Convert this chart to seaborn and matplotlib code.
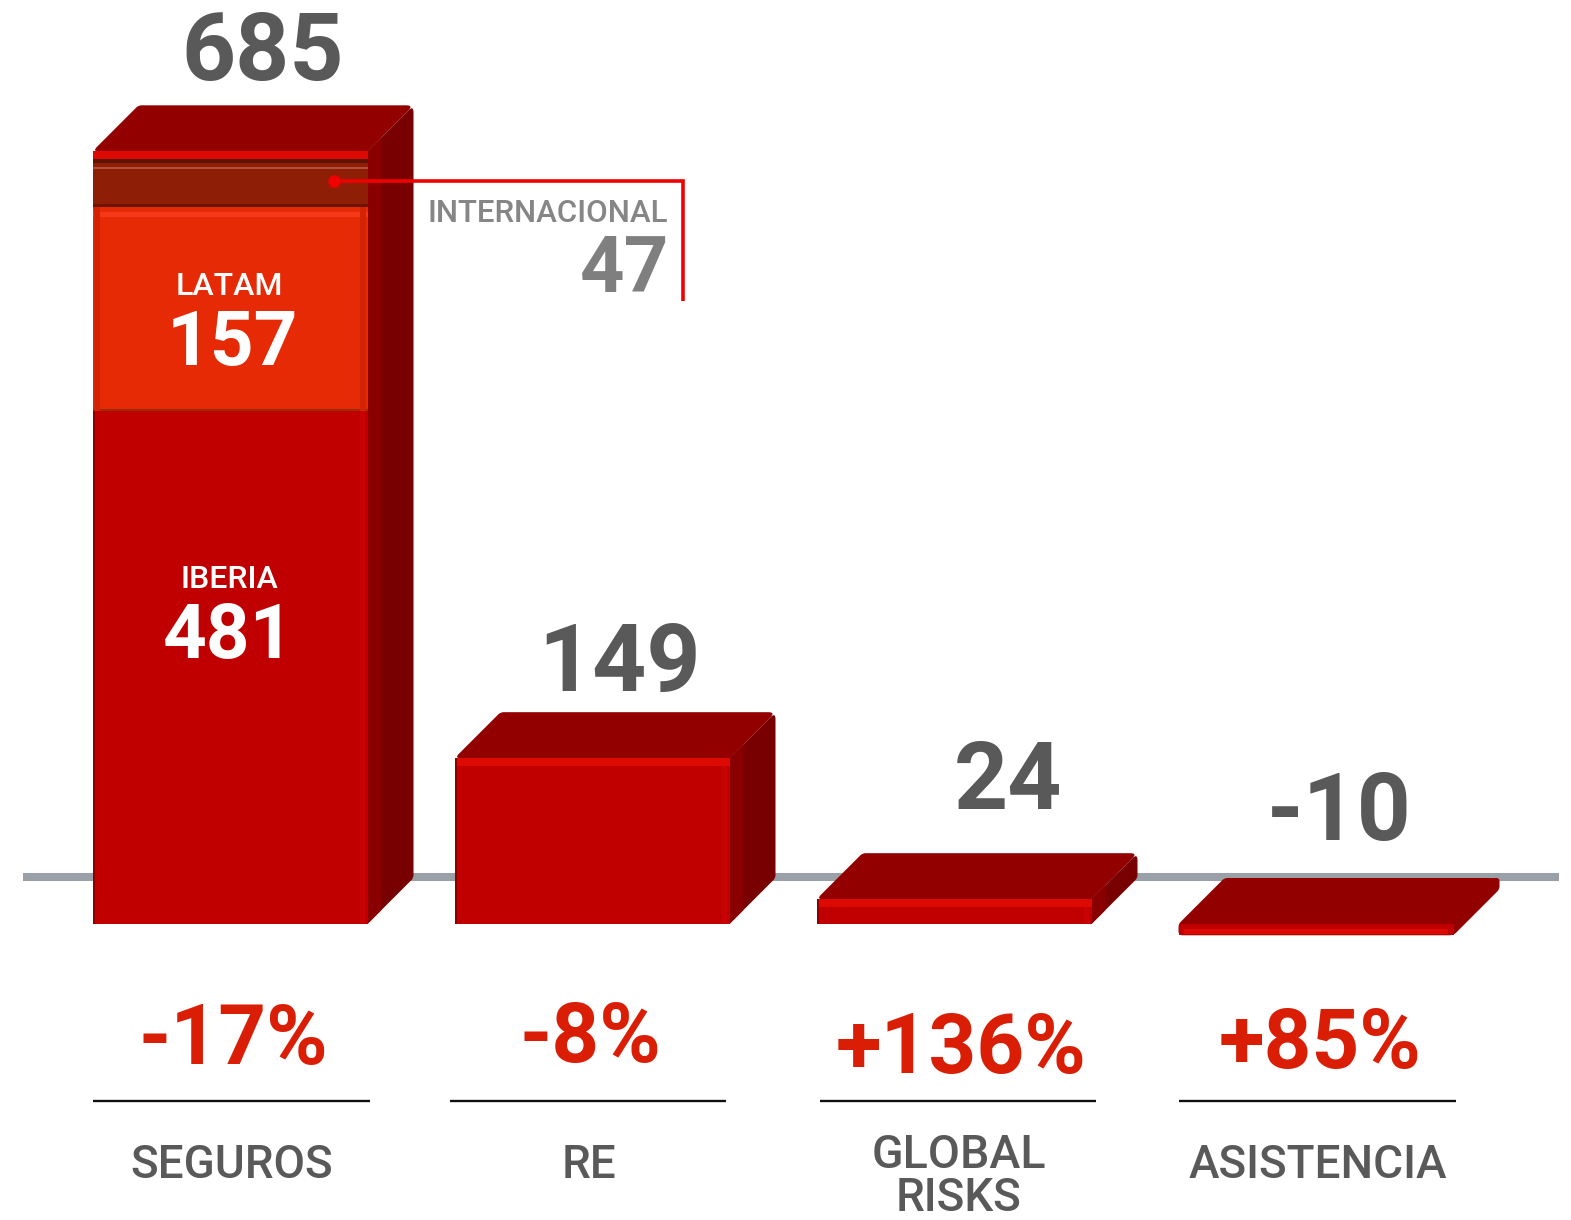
import matplotlib
matplotlib.use("Agg")
import matplotlib.pyplot as plt
from matplotlib.patches import PathPatch
from matplotlib.path import Path
from matplotlib.transforms import Affine2D, IdentityTransform
import numpy as np
import pandas as pd
import seaborn as sns

categories = ["SEGUROS", "RE", "GLOBAL\nRISKS", "ASISTENCIA"]
iberia_values = [455, 147, 22, -10]
latam_values = [181, 0, 0, 0]
internacional_values = [49, 0, 0, 0]
total_labels = ["685", "149", "24", "-10"]
change_labels = ["-17%", "-8%", "+136%", "+85%"]
segment_names = ["IBERIA", "LATAM", "INTERNACIONAL"]
segment_labels = ["481", "157", "47"]

W, H = 1571, 1220
PX_PER_UNIT = 1.128
BASE_PX = 924
PITCH = 362
CENTER0 = 230
BAR_W = 275 / PITCH
DX, DY = 46 / PITCH, 46 / PX_PER_UNIT

FRONT, TOP, SIDE = "#c00000", "#930000", "#790000"
BEVEL = "#dc0a02"
GREY, RED, LINE_RED = "#595959", "#d91e05", "#f00000"
FONT = "Roboto"

sns.set_theme(style="white")
plt.rcParams["font.family"] = [FONT, "DejaVu Sans"]
fig = plt.figure(figsize=(W / 100, H / 100), dpi=100, facecolor="white")
ax = fig.add_axes([0, 0, 1, 1])

# pixel coordinates (as read on the 1568-wide view) for annotation layout
S = W / 1568
px = Affine2D().scale(S, -S).translate(0, H)


def label(x, y, s, size, color=GREY, ha="center", weight="bold"):
    fig.text(x, y, s, transform=px, fontsize=size, color=color, ha=ha, va="baseline",
             fontweight=weight, fontfamily=[FONT, "DejaVu Sans"], zorder=10)


def face(points, radii, color, z=2):
    """Polygon from data coordinates, with corners rounded by radii pixels."""
    pts = ax.transData.transform(np.array(points, float))
    n = len(pts)
    verts, codes = [], []
    for k in range(n):
        p, a, b = pts[k], pts[k - 1], pts[(k + 1) % n]
        r = radii[k]
        ua = (a - p) / max(np.hypot(*(a - p)), 1e-6)
        ub = (b - p) / max(np.hypot(*(b - p)), 1e-6)
        verts += [p + ua * r, p, p + ub * r]
        codes += [Path.MOVETO if k == 0 else Path.LINETO, Path.CURVE3, Path.CURVE3]
    verts.append(verts[0])
    codes.append(Path.CLOSEPOLY)
    ax.add_patch(PathPatch(Path(verts, codes), fc=color, ec="none",
                           transform=IdentityTransform(), zorder=z))


bottoms_latam = [max(v, 0) for v in iberia_values]
bottoms_int = [a + b for a, b in zip(bottoms_latam, latam_values)]
tops = [a + b for a, b in zip(bottoms_int, internacional_values)]
df = pd.DataFrame({"category": categories, "iberia": iberia_values,
                   "latam": latam_values, "internacional": internacional_values})

kw = dict(data=df, x="category", order=categories, width=BAR_W, saturation=1,
          errorbar=None, linewidth=0, ax=ax, zorder=3)
sns.barplot(y="iberia", color=FRONT, **kw)
sns.barplot(y="latam", color="#e62a06", bottom=bottoms_latam, **kw)
sns.barplot(y="internacional", color="#8f1e06", bottom=bottoms_int, **kw)

ax.set_xlim(-CENTER0 / PITCH, (W - CENTER0) / PITCH)
ax.set_ylim(-(H - BASE_PX) / PX_PER_UNIT, BASE_PX / PX_PER_UNIT)
ax.axis("off")

# the baseline rail sits on the back plane of the 3-D bars
ax.plot([(22.5 - CENTER0) / PITCH, (1559 - CENTER0) / PITCH], [DY + 0.7, DY + 0.7], color="#9aa0a8",
        lw=5.8, solid_capstyle="butt", zorder=1)

for i, (top, val) in enumerate(zip(tops, iberia_values)):
    bot = min(val, 0)
    l, r = i - BAR_W / 2, i + BAR_W / 2
    if val > 0:
        face([(r, bot), (r + DX, bot + DY), (r + DX, top + DY), (r, top)],
             [0, 3, 7, 0], SIDE)
        # lighter inner strip of the side wall
        face([(r, bot), (r + DX * 0.3, bot + DY * 0.3), (r + DX * 0.3, top + DY * 0.3), (r, top)],
             [0, 0, 0, 0], "#8a0000")
        face([(l, top), (r, top), (r + DX, top + DY), (l + DX, top + DY)],
             [6, 0, 7, 3], TOP, z=2.5)
        ax.bar(i, 7, BAR_W, bottom=top - 7, color=BEVEL, lw=0, zorder=4)
        ax.bar(l + 0.003, val, 0.006, bottom=0, color="#8c0000", lw=0, zorder=5)
        ax.bar(r - 0.014, val - 7 if i else val, 0.016, bottom=0, color="#c90205", lw=0, zorder=4)
    else:
        face([(l, bot), (r, bot), (r + DX, bot + DY), (r + DX, top + DY), (l + DX, top + DY), (l, top)],
             [4, 4, 3, 3, 3, 3], TOP)
        ax.bar(i, 5, BAR_W - 0.03, bottom=bot + 1, color=BEVEL, lw=0, zorder=4)

# segment detail in the stacked bar
ax.bar(0, 2, BAR_W, bottom=bottoms_latam[0], color="#9c2a02", lw=0, zorder=5)
ax.bar(0, 4, BAR_W, bottom=bottoms_int[0] - 9, color="#f5381a", lw=0, zorder=5)
ax.bar(0, 2, BAR_W, bottom=bottoms_int[0], color="#6d1505", lw=0, zorder=5)
ax.bar(0, 7, BAR_W, bottom=tops[0] - 7, color=BEVEL, lw=0, zorder=5)
ax.bar(0, 3, BAR_W, bottom=tops[0] - 10, color="#5f1304", lw=0, zorder=5)
ax.bar(0, 2, BAR_W, bottom=tops[0] - 16, color="#b0503a", lw=0, zorder=6)
ax.bar(BAR_W / 2 - 0.012, latam_values[0], 0.016, bottom=bottoms_latam[0], color="#d32204", lw=0, zorder=5)
ax.bar(-BAR_W / 2 + 0.012, latam_values[0], 0.016, bottom=bottoms_latam[0], color="#d32204", lw=0, zorder=5)

# callout
ax.plot([333, 682, 682], [181, 181, 300], transform=px, color=LINE_RED, lw=2.6,
        solid_joinstyle="miter", solid_capstyle="butt", zorder=8)
ax.plot([333], [181], transform=px, marker="o", ms=8, color=LINE_RED, zorder=8)

# totals
total_x = [262, 618, 1006, 1337]
total_y = [80, 690, 807, 838]
for x, y, t in zip(total_x, total_y, total_labels):
    label(x, y, t, 68)

# segment labels
label(229, 294, segment_names[1], 23, "white", weight="medium")
label(232, 364, segment_labels[1], 55, "white")
label(229, 587, segment_names[0], 23, "white", weight="medium")
label(228, 657, segment_labels[0], 55, "white")
label(667, 222, segment_names[2], 22.5, "#868686", ha="right", weight="medium")
label(668, 291, segment_labels[2], 56, "#7f7f7f", ha="right")

# changes, rules and category names
change_x = [233, 589, 959, 1318]
change_y = [1062, 1060, 1071, 1066]
for x, y, t in zip(change_x, change_y, change_labels):
    label(x, y, t, 60, RED)

for x0 in [93, 449, 818, 1177]:
    ax.plot([x0, x0 + 276], [1098.5, 1098.5], transform=px, color="#111111", lw=1.7,
            solid_capstyle="butt", zorder=8)

label(231, 1176, categories[0], 33, weight="medium")
label(588, 1176, categories[1], 33, weight="medium")
label(957, 1166, categories[2].split("\n")[0], 33.5, weight="medium")
label(957, 1209, categories[2].split("\n")[1], 33, weight="medium")
label(1315, 1176, categories[3], 33, weight="medium")

fig.savefig("out.png", dpi=100)
